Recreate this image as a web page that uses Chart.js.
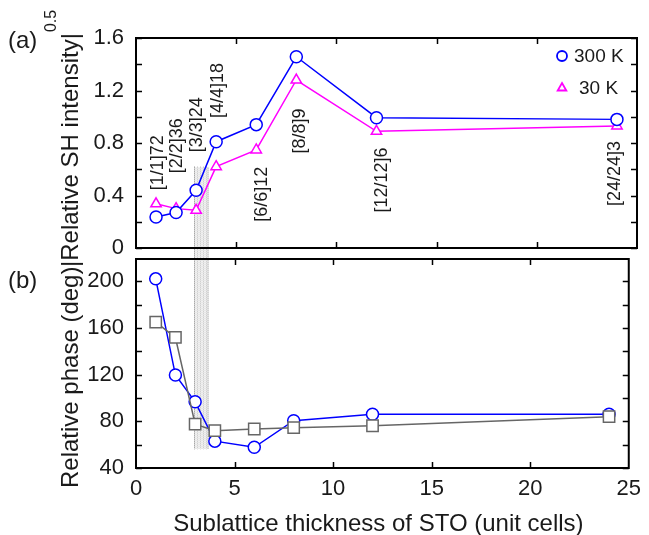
<!DOCTYPE html>
<html lang="en">
<head>
  <meta charset="UTF-8" />
  <title>SH intensity and phase vs STO thickness</title>
  <script src="https://cdn.jsdelivr.net/npm/chart.js"></script>
  <style>
    body { margin: 0; background: #fff; }
    #wrap { position: relative; width: 649px; height: 535px; }
    canvas { position: absolute; left: 0; top: 0; }
  </style>
</head>
<body>
  <div id="wrap">
    <canvas id="phaseChart" width="649" height="535"></canvas>
    <canvas id="shChart" width="649" height="535"></canvas>
  </div>

  <script>
    // sublattice thickness of STO (unit cells)
    const thickness = [1, 2, 3, 4, 6, 8, 12, 24];

    // (a) |relative SH intensity|^0.5
    const sh300K = [0.236, 0.27, 0.44, 0.81, 0.94, 1.457, 0.993, 0.98];
    const sh30K  = [0.337, 0.30, 0.287, 0.62, 0.747, 1.28, 0.889, 0.93];

    // (b) relative phase (deg)
    const phase300K = [202, 119.6, 96.7, 63, 57.7, 80.5, 86, 86];
    const phaseGrey = [165, 151.8, 77.6, 72, 73.4, 74.5, 76.2, 84];

    // superlattice labels [n/n]repeats and where they sit (x, bottom in intensity units)
    const slLabels = ['[1/1]72', '[2/2]36', '[3/3]24', '[4/4]18', '[6/6]12', '[8/8]9', '[12/12]6', '[24/24]3'];
    const slLabelX = [1.1, 2.05, 3.04, 4.09, 6.29, 8.18, 12.27, 23.9];
    const slLabelY = [0.44, 0.57, 0.73, 0.99, 0.20, 0.72, 0.27, 0.32];

    // axes
    const xTicks = [0, 5, 10, 15, 20, 25];
    const shTicks = [0, 0.4, 0.8, 1.2, 1.6];
    const shTickLabels = ['0', '0.4', '0.8', '1.2', '1.6'];
    const shMinor = [0.2, 0.6, 1.0, 1.4];
    const phaseTicks = [40, 80, 120, 160, 200];
    const phaseTickLabels = ['40', '80', '120', '160', '200'];
    const phaseMinor = [60, 100, 140, 180];

    // shaded region (x range, top in intensity units, bottom in degrees)
    const bandX = [2.95, 3.7];
    const bandShTop = 0.62;
    const bandPhaseBottom = 56;

    const FONT = '"Liberation Sans", Arial, Helvetica, sans-serif';
    const INK = '#1a1a1a';

    function pts(ys) {
      return thickness.map((x, i) => ({ x: x, y: ys[i] }));
    }

    // box frame with inward ticks on all four sides
    const framePlugin = {
      id: 'frame',
      afterDatasetsDraw(chart, args, opts) {
        const { ctx, chartArea: a, scales } = chart;
        ctx.save();
        ctx.strokeStyle = '#000';
        ctx.lineWidth = 1.5;
        ctx.beginPath();
        xTicks.slice(1, -1).forEach(v => {
          const px = Math.round(scales.x.getPixelForValue(v)) + 0.5;
          ctx.moveTo(px, a.top); ctx.lineTo(px, a.top + 6);
          ctx.moveTo(px, a.bottom); ctx.lineTo(px, a.bottom - 6);
        });
        opts.yMarks.forEach(v => {
          const py = Math.round(scales.y.getPixelForValue(v)) + 0.5;
          ctx.moveTo(a.left, py); ctx.lineTo(a.left + 6, py);
          ctx.moveTo(a.right, py); ctx.lineTo(a.right - 6, py);
        });
        ctx.stroke();
        ctx.lineWidth = 2;
        ctx.strokeRect(a.left, a.top, a.right - a.left, a.bottom - a.top);
        ctx.restore();
      }
    };

    function baseOptions(yMin, yMax, yTicks, yLabels, padTop, padBottom) {
      return {
        responsive: false,
        animation: false,
        events: [],
        layout: { padding: { left: 0, right: 12, top: padTop, bottom: padBottom } },
        plugins: { legend: { display: false }, tooltip: { enabled: false } },
        scales: {
          x: {
            type: 'linear', min: 0, max: 25,
            afterBuildTicks: s => { s.ticks = xTicks.map(v => ({ value: v })); },
            grid: { display: false, drawTicks: false },
            border: { display: false },
            ticks: { font: { family: FONT, size: 22 }, color: INK, padding: 8, maxRotation: 0 }
          },
          y: {
            min: yMin, max: yMax,
            afterBuildTicks: s => { s.ticks = yTicks.map(v => ({ value: v })); },
            afterFit: s => { s.width = 136; },
            grid: { display: false, drawTicks: false },
            border: { display: false },
            ticks: {
              font: { family: FONT, size: 22 }, color: INK, padding: 12,
              callback: v => yLabels[yTicks.indexOf(v)]
            }
          }
        }
      };
    }

    // ---------- (a) SH intensity ----------
    const shOpts = baseOptions(0, 1.6, shTicks, shTickLabels, 38, 287);
    shOpts.scales.x.ticks.display = false;
    shOpts.scales.x.afterFit = s => { s.height = 0; };
    shOpts.plugins.frame = { yMarks: shTicks.concat(shMinor) };

    const shTextPlugin = {
      id: 'shText',
      afterDatasetsDraw(chart) {
        const { ctx, scales, chartArea: a } = chart;
        ctx.save();
        ctx.fillStyle = INK;

        // superlattice labels, rotated
        ctx.font = '18px ' + FONT;
        ctx.textAlign = 'left';
        ctx.textBaseline = 'middle';
        slLabels.forEach((t, i) => {
          ctx.save();
          ctx.translate(scales.x.getPixelForValue(slLabelX[i]), scales.y.getPixelForValue(slLabelY[i]));
          ctx.rotate(-Math.PI / 2);
          ctx.fillText(t, 0, 0);
          ctx.restore();
        });

        // legend
        const legX = a.right - 75;
        const legTextX = [a.right - 63, a.right - 58];
        const legY = [a.top + 18, a.top + 50];
        chart.data.datasets.forEach((ds, i) => {
          ctx.fillStyle = '#fff';
          ctx.strokeStyle = ds.borderColor;
          ctx.lineWidth = 1.8;
          Chart.helpers.drawPoint(ctx, { pointStyle: ds.pointStyle, radius: 5, rotation: 0, borderWidth: 1.8 }, legX, legY[i]);
          ctx.fillStyle = INK;
          ctx.font = '19px ' + FONT;
          ctx.textBaseline = 'middle';
          ctx.fillText(ds.label, legTextX[i], legY[i] + 1);
        });

        // y titles
        ctx.font = '24px ' + FONT;
        ctx.textBaseline = 'alphabetic';
        ctx.save();
        ctx.translate(78, 267);
        ctx.rotate(-Math.PI / 2);
        const main = '|Relative SH intensity|';
        ctx.fillText(main, 0, 0);
        const w = ctx.measureText(main).width;
        ctx.font = '16px ' + FONT;
        ctx.fillText('0.5', w + 1, -22);
        ctx.restore();

        ctx.save();
        ctx.font = '24px ' + FONT;
        ctx.translate(78, 488);
        ctx.rotate(-Math.PI / 2);
        ctx.fillText('Relative phase (deg)', 0, 0);
        ctx.restore();

        // panel labels
        ctx.font = '24px ' + FONT;
        ctx.fillText('(a)', 8, 48);
        ctx.fillText('(b)', 8, 288);
        ctx.restore();
      }
    };

    const shChart = new Chart(document.getElementById('shChart').getContext('2d'), {
      type: 'line',
      data: {
        datasets: [
          {
            label: '300 K', data: pts(sh300K),
            borderColor: '#0000ff', borderWidth: 1.5, tension: 0,
            pointStyle: 'circle', pointRadius: 6, pointBorderWidth: 1.5,
            pointBackgroundColor: '#fff', pointBorderColor: '#0000ff'
          },
          {
            label: '30 K', data: pts(sh30K),
            borderColor: '#ff00ff', borderWidth: 1.5, tension: 0,
            pointStyle: 'triangle', pointRadius: 6, pointBorderWidth: 1.5,
            pointBackgroundColor: '#fff', pointBorderColor: '#ff00ff'
          }
        ]
      },
      options: shOpts,
      plugins: [framePlugin, shTextPlugin]
    });

    // ---------- (b) relative phase ----------
    const phOpts = baseOptions(40, 219, phaseTicks, phaseTickLabels, 259, 0);
    phOpts.scales.x.afterFit = s => { s.height = 67; };
    phOpts.plugins.frame = { yMarks: phaseTicks.concat(phaseMinor) };

    // stippled band, spans both panels (drawn on the lower canvas, behind everything)
    const bandPlugin = {
      id: 'band',
      beforeDatasetsDraw(chart) {
        const { ctx, scales } = chart;
        const x0 = scales.x.getPixelForValue(bandX[0]);
        const x1 = scales.x.getPixelForValue(bandX[1]);
        const yTop = shChart.scales.y.getPixelForValue(bandShTop);
        const yBot = scales.y.getPixelForValue(bandPhaseBottom);
        ctx.save();
        ctx.lineWidth = 1;
        ctx.setLineDash([1, 1]);
        let k = 0;
        for (let x = Math.round(x0) + 0.5; x <= x1 + 0.5; x += 1.5, k++) {
          const edge = x - x0 < 1.2 || x1 - x < 1.2;
          ctx.strokeStyle = edge ? '#777' : '#b4b4b4';
          ctx.lineDashOffset = k % 2;
          ctx.beginPath();
          ctx.moveTo(x, yTop);
          ctx.lineTo(x, yBot);
          ctx.stroke();
        }
        ctx.restore();
      }
    };

    const xTitlePlugin = {
      id: 'xTitle',
      afterDraw(chart) {
        const { ctx, chartArea: a } = chart;
        ctx.save();
        ctx.fillStyle = INK;
        ctx.font = '24px ' + FONT;
        ctx.textAlign = 'center';
        ctx.fillText('Sublattice thickness of STO (unit cells)', (a.left + a.right) / 2 - 4, 531);
        ctx.restore();
      }
    };

    new Chart(document.getElementById('phaseChart').getContext('2d'), {
      type: 'line',
      data: {
        datasets: [
          {
            label: 'reference', data: pts(phaseGrey),
            borderColor: '#666', borderWidth: 1.5, tension: 0,
            pointStyle: 'rect', pointRadius: 8, pointBorderWidth: 1.5,
            pointBackgroundColor: '#fff', pointBorderColor: '#666'
          },
          {
            label: '300 K', data: pts(phase300K),
            borderColor: '#0000ff', borderWidth: 1.5, tension: 0,
            pointStyle: 'circle', pointRadius: 6, pointBorderWidth: 1.5,
            pointBackgroundColor: '#fff', pointBorderColor: '#0000ff'
          }
        ]
      },
      options: phOpts,
      plugins: [bandPlugin, framePlugin, xTitlePlugin]
    });
  </script>
</body>
</html>
